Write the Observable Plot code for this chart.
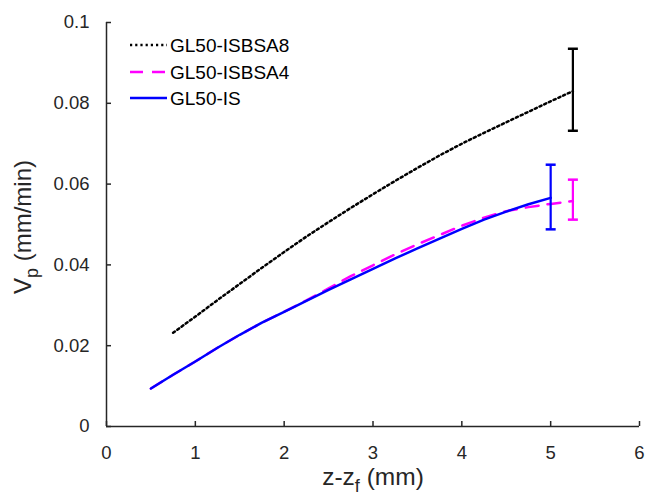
<!DOCTYPE html>
<html>
<head>
<meta charset="utf-8">
<script src="https://cdn.jsdelivr.net/npm/d3@7"></script>
<script src="https://cdn.jsdelivr.net/npm/@observablehq/plot@0.6"></script>
<style>
  html, body { margin: 0; padding: 0; background: #fff; }
  svg { font-family: "Liberation Sans", Arial, sans-serif; }
</style>
</head>
<body>
<div id="chart"></div>
<script>
// ---- data ----
const seriesNames = ["GL50-ISBSA8", "GL50-ISBSA4", "GL50-IS"];
const seriesColors = ["#000000", "#ff00ff", "#0000ff"];

const xBSA8 = [0.75, 1.0, 1.25, 1.5, 1.75, 2.0, 2.25, 2.5, 2.75, 3.0, 3.25, 3.5, 3.75, 4.0, 4.25, 4.5, 4.75, 5.0, 5.25];
const yBSA8 = [0.0232, 0.0272, 0.0313, 0.0353, 0.0393, 0.0432, 0.0470, 0.0506, 0.0541, 0.0575, 0.0608, 0.0640, 0.0671, 0.0700, 0.0727, 0.0753, 0.0779, 0.0805, 0.0830];

const xBSA4 = [0.5, 0.75, 1.0, 1.25, 1.5, 1.75, 2.0, 2.25, 2.5, 2.75, 3.0, 3.25, 3.5, 3.75, 4.0, 4.25, 4.5, 4.75, 5.0, 5.25];
const yBSA4 = [0.0094, 0.0128, 0.0161, 0.0195, 0.0227, 0.0257, 0.0284, 0.0312, 0.0342, 0.0372, 0.0399, 0.0426, 0.0451, 0.0474, 0.0497, 0.0517, 0.0533, 0.0543, 0.0551, 0.0558];

const xIS = [0.5, 0.75, 1.0, 1.25, 1.5, 1.75, 2.0, 2.25, 2.5, 2.75, 3.0, 3.25, 3.5, 3.75, 4.0, 4.25, 4.5, 4.75, 5.0];
const yIS = [0.0094, 0.0128, 0.0161, 0.0195, 0.0227, 0.0257, 0.0284, 0.0311, 0.0338, 0.0364, 0.0390, 0.0416, 0.0441, 0.0465, 0.0489, 0.0512, 0.0532, 0.0550, 0.0566];

// error bars: series index, x, low, high
const errSeries = [0, 1, 2];
const errX = [5.25, 5.25, 5.0];
const errLow = [0.0732, 0.0512, 0.0488];
const errHigh = [0.0935, 0.0611, 0.0648];

const xTicks = [0, 1, 2, 3, 4, 5, 6];
const yTicks = [0, 0.02, 0.04, 0.06, 0.08, 0.1];

// ---- build tables ----
const toRows = (xs, ys) => xs.map((x, i) => ({x, y: ys[i]}));
const dBSA8 = toRows(xBSA8, yBSA8);
const dBSA4 = toRows(xBSA4, yBSA4);
const dIS = toRows(xIS, yIS);
const errRows = errSeries.map((s, i) => ({s, x: errX[i], lo: errLow[i], hi: errHigh[i], color: seriesColors[s]}));
const capRows = errRows.flatMap(d => [{x: d.x, y: d.lo, color: d.color}, {x: d.x, y: d.hi, color: d.color}]);

const capSymbol = { draw(ctx) { ctx.moveTo(-5, 0); ctx.lineTo(5, 0); } };
const axisColor = "#262626";
const dashes = ["2.2,3", "13,9", null];

const svg = Plot.plot({
  width: 645,
  height: 495,
  marginLeft: 106,
  marginRight: 6,
  marginTop: 22,
  marginBottom: 69,
  style: {fontFamily: "'Liberation Sans', Arial, sans-serif", fontSize: "18.5px", color: axisColor, background: "#fff"},
  x: {domain: [0, 6]},
  y: {domain: [0, 0.1]},
  marks: [
    Plot.axisX({ticks: xTicks, tickSize: -5, tickPadding: 24, tickFormat: d => String(d), label: null, stroke: axisColor, strokeWidth: 1.5, fill: axisColor, fontSize: 18.5}),
    Plot.axisY({ticks: yTicks, tickSize: -5, tickPadding: 22, tickFormat: d => String(d), label: null, stroke: axisColor, strokeWidth: 1.5, fill: axisColor, fontSize: 18.5}),
    Plot.ruleY([0], {stroke: axisColor, strokeWidth: 1.5}),
    Plot.ruleX([0], {stroke: axisColor, strokeWidth: 1.5}),
    Plot.line(dBSA8, {x: "x", y: "y", stroke: seriesColors[0], strokeWidth: 2.5, strokeDasharray: dashes[0]}),
    Plot.line(dBSA4, {x: "x", y: "y", stroke: seriesColors[1], strokeWidth: 2.5, strokeDasharray: dashes[1]}),
    Plot.line(dIS, {x: "x", y: "y", stroke: seriesColors[2], strokeWidth: 2.5}),
    Plot.ruleX(errRows, {x: "x", y1: "lo", y2: "hi", stroke: "color", strokeWidth: 2.2}),
    Plot.dot(capRows, {x: "x", y: "y", stroke: "color", symbol: capSymbol, strokeWidth: 2.5, fill: "none"})
  ]
});

const s = d3.select(svg);
// axis labels
const yl = s.append("text")
  .attr("transform", "translate(31,227) rotate(-90)")
  .attr("text-anchor", "middle")
  .attr("fill", axisColor)
  .attr("font-size", 24);
yl.append("tspan").text("V");
yl.append("tspan").attr("dy", 7).attr("font-size", 18).text("p");
yl.append("tspan").attr("dy", -7).text(" (mm/min)");

const xl = s.append("text")
  .attr("x", 373)
  .attr("y", 485)
  .attr("text-anchor", "middle")
  .attr("fill", axisColor)
  .attr("font-size", 24.5);
xl.append("tspan").text("z-z");
xl.append("tspan").attr("dy", 7).attr("font-size", 18).text("f");
xl.append("tspan").attr("dy", -7).text(" (mm)");

// legend
const rowY = [45, 72, 98];
seriesNames.forEach((name, i) => {
  const g = s.append("g");
  g.append("line")
    .attr("x1", 130).attr("x2", 167)
    .attr("y1", rowY[i]).attr("y2", rowY[i])
    .attr("stroke", seriesColors[i])
    .attr("stroke-width", 2.5)
    .attr("stroke-dasharray", dashes[i]);
  g.append("text")
    .attr("x", 170).attr("y", rowY[i])
    .attr("dy", "0.36em")
    .attr("text-anchor", "start")
    .attr("font-size", 19)
    .attr("fill", "#000")
    .text(name);
});

document.getElementById("chart").appendChild(svg);
</script>
</body>
</html>
